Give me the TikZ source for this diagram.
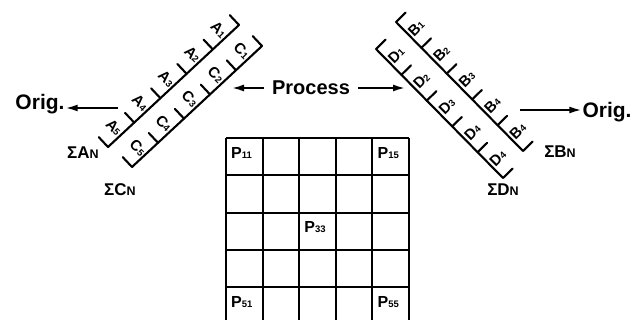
\documentclass[tikz,border=0pt]{standalone}
\usepackage{fontspec}
\setmainfont{Liberation Sans}
\usetikzlibrary{calc,arrows.meta}

\newcommand{\lowsub}[1]{{\fontsize{9.5}{9.5}\selectfont #1}}
\newcommand{\cellsub}[1]{{\fontsize{9.5}{9.5}\selectfont #1}}
\newcommand{\smallN}{{\fontsize{12.5}{12.5}\selectfont N}}

\tikzset{
  strip/.style={line width=2.1pt, line cap=round},
  gridline/.style={line width=2pt},
  bigtext/.style={font=\fontsize{21}{21}\selectfont\bfseries, inner sep=1pt},
  sumtext/.style={font=\fontsize{17}{17}\selectfont\bfseries, inner sep=0pt},
  celltext/.style={font=\fontsize{16}{16}\selectfont\bfseries, anchor=north west, inner sep=0pt},
  striplabel/.style={font=\fontsize{15}{15}\selectfont\bfseries, inner sep=0pt},
  feed/.style={line width=1.8pt, -{Latex[length=12pt,width=7pt]}},
}

\begin{document}
\begin{tikzpicture}[x=1pt,y=1pt]
\useasboundingbox (0,0) rectangle (642,-320);

% base lines of the four strips
\coordinate (a0) at (108,-147); \coordinate (a1) at (239,-25);
\coordinate (c0) at (132,-167); \coordinate (c1) at (262,-46);
\coordinate (b0) at (396,-22);  \coordinate (b1) at (523,-151);
\coordinate (d0) at (376,-49);  \coordinate (d1) at (503,-178);

\foreach \s/\nx/\ny in {a/-9.2/9.8, c/-9.2/9.8, b/9.6/9.4, d/9.6/9.4} {
  \draw[strip] (\s0) -- (\s1);
  \foreach \k in {0,...,5}
    \draw[strip] ($(\s0)!\k/5!(\s1)$) -- ++(\nx,\ny);
}

% strip labels
\foreach \k in {1,...,5} {
  \pgfmathtruncatemacro{\n}{6-\k}
  \node[striplabel, rotate=-45] (lab-a-\k) at ($(a0)!{(\k-0.5)/5}!(a1) + (-7,7.5)$) {A\lowsub{\n}};
  \node[striplabel, rotate=-45] (lab-c-\k) at ($(c0)!{(\k-0.5)/5}!(c1) + (-7,7.5)$) {C\lowsub{\n}};
}
\foreach \k/\n in {1/1, 2/2, 3/3, 4/4, 5/4} {
  \node[striplabel, rotate=45] (lab-b-\k) at ($(b0)!{(\k-0.5)/5}!(b1) + (7.4,7.2)$) {B\lowsub{\n}};
  \node[striplabel, rotate=45] (lab-d-\k) at ($(d0)!{(\k-0.5)/5}!(d1) + (7.4,7.2)$) {D\lowsub{\n}};
}

% sums
\node[sumtext] (sumA) at (83,-153) {ΣA\smallN};
\node[sumtext] (sumC) at (120,-190) {ΣC\smallN};
\node[sumtext] (sumB) at (560,-152) {ΣB\smallN};
\node[sumtext] (sumD) at (503,-190) {ΣD\smallN};

% outputs
\node[bigtext] (origL) at (40,-104) {Orig.};
\node[bigtext] (origR) at (607,-112) {Orig.};
\coordinate (aout) at (118,-108);
\coordinate (bout) at (520,-110);
\draw[feed] (aout) -- (aout -| origL.east);
\draw[feed] (bout) -- (bout -| origR.west);

% input
\node[bigtext, font=\fontsize{20}{20}\selectfont\bfseries, inner xsep=8pt] (proc) at (311,-88) {Process};
\coordinate (cin) at (232,-88);
\coordinate (din) at (405,-88);
\draw[feed] (proc.west) -- (cin);
\draw[feed] (proc.east) -- (din);

% processor array
\begin{scope}[shift={(226,-138)}]
\draw[gridline] (0,0) grid[xstep=36.6, ystep=37.3] (183.1,-190);
\foreach \r/\c in {1/1, 1/5, 3/3, 5/1, 5/5}
  \node[celltext] (p\r\c) at ({(\c-1)*36.6+5}, {-(\r-1)*37.3-9}) {P\cellsub{\r\c}};
\end{scope}
\end{tikzpicture}
\end{document}
